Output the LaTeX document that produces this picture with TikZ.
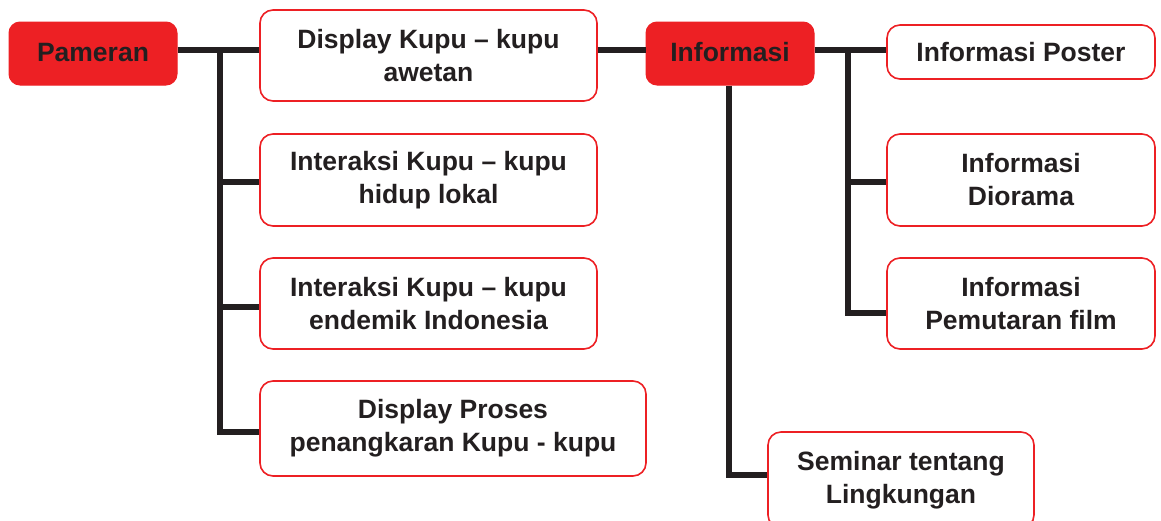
\documentclass[tikz,border=0pt]{standalone}
\usepackage{fontspec}
\setmainfont{Liberation Sans}
\definecolor{boxred}{HTML}{ED2024}
\definecolor{ink}{HTML}{231F20}
\begin{document}
\begin{tikzpicture}[x=1pt,y=-1pt,
  every node/.append style={font=\bfseries\fontsize{26.5}{33}\selectfont, text=ink, align=center, inner sep=0pt},
  headbox/.style={rectangle, rounded corners=11pt, fill=boxred, draw=boxred, line width=1pt},
  itembox/.style={rectangle, rounded corners=13pt, fill=white, draw=boxred, line width=1.6pt},
  link/.style={draw=ink, line width=5.5pt}]
\useasboundingbox (0,0) rectangle (1161,520);
\clip (0,0) rectangle (1161,520);

% left group: exhibition
\node[headbox, minimum width=168pt, minimum height=63pt] (pam) at (93,53.5) {\raisebox{3pt}{Pameran}};
\node[itembox, minimum width=337pt, minimum height=91pt] (dk) at (428.5,55.5) {Display Kupu -- kupu\\awetan};
\node[itembox, minimum width=337pt, minimum height=92pt] (ia) at (428.5,180) {Interaksi Kupu -- kupu\\hidup lokal};
\node[itembox, minimum width=337pt, minimum height=91pt] (ib) at (428.5,303.5) {Interaksi Kupu -- kupu\\endemik Indonesia};
\node[itembox, minimum width=386pt, minimum height=95pt] (dp) at (453,428.5) {Display Proses\\penangkaran Kupu - kupu};

% right group: information
\node[headbox, minimum width=168pt, minimum height=63pt] (inf) at (730,53.5) {\raisebox{3pt}{Informasi}};
\node[itembox, minimum width=268pt, minimum height=54pt] (pos) at (1021,52) {Informasi Poster};
\node[itembox, minimum width=268pt, minimum height=92pt] (dio) at (1021,180) {Informasi\\Diorama};
\node[itembox, minimum width=268pt, minimum height=91pt] (pf) at (1021,303.5) {Informasi\\Pemutaran film};
\node[itembox, minimum width=266pt, minimum height=96pt] (sem) at (901,480) {Seminar tentang\\Lingkungan};

% connectors of the left group
\coordinate (ltop) at (220,50);
\coordinate (lbot) at (220,432);
\draw[link] (pam.east |- ltop) -- (dk.west |- ltop);
\draw[link] (ltop) -- (lbot) -- (dp.west |- lbot);
\draw[link] (220,182) -- (ia.west |- 0,182);
\draw[link] (220,307) -- (ib.west |- 0,307);
\draw[link] (dk.east |- ltop) -- (inf.west |- ltop);

% connectors of the right group
\coordinate (rtop) at (848,50);
\coordinate (rbot) at (848,313);
\draw[link] (inf.east |- rtop) -- (pos.west |- rtop);
\draw[link] (rtop) -- (rbot) -- (pf.west |- rbot);
\draw[link] (848,182) -- (dio.west |- 0,182);
\coordinate (sbot) at (729,475);
\draw[link] (inf.south -| sbot) -- (sbot) -- (sem.west |- sbot);
\end{tikzpicture}
\end{document}
